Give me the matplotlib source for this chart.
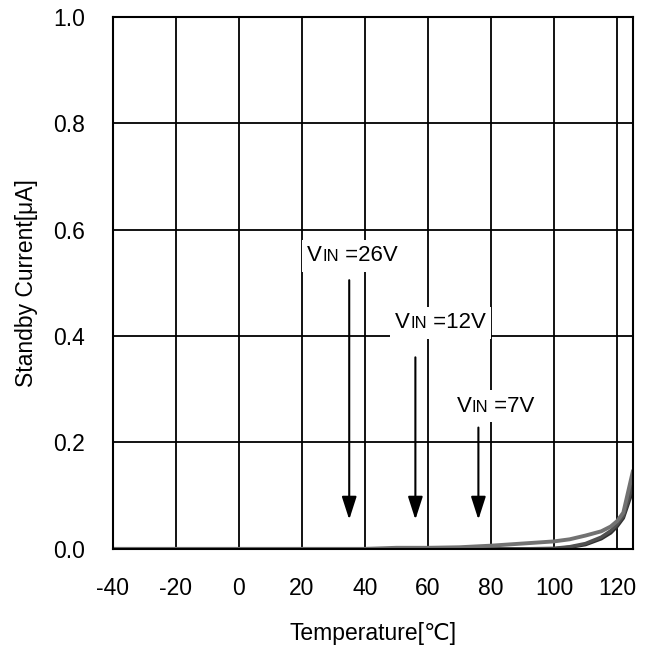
import numpy as np
import matplotlib
matplotlib.use("Agg")
from matplotlib import pyplot as plt
from matplotlib.offsetbox import TextArea, HPacker, AnnotationBbox

plt.rcParams['font.family'] = ['Liberation Sans', 'DejaVu Sans']
plt.rcParams['axes.unicode_minus'] = False

# Temperature [degC]
temp = [-40, -20, 0, 20, 40, 50, 60, 70, 80, 90, 100, 105, 110, 115, 118, 120, 122, 125]
# Standby current [uA] per supply voltage
i_26v = [0.0, 0.0, 0.0, 0.0, 0.0, 0.002, 0.002, 0.003, 0.006, 0.010, 0.014, 0.018, 0.025, 0.033, 0.042, 0.052, 0.068, 0.145]
i_12v = [0.0, 0.0, 0.0, 0.0, 0.0, 0.0, 0.0, 0.0, 0.0, 0.0, 0.001, 0.004, 0.010, 0.022, 0.034, 0.046, 0.062, 0.120]
i_7v = [0.0, 0.0, 0.0, 0.0, 0.0, 0.0, 0.0, 0.0, 0.0, 0.0, 0.0, 0.003, 0.008, 0.019, 0.030, 0.042, 0.058, 0.110]

labels = ['26V', '12V', '7V']
arrow_x = [35, 56, 76]
arrow_top = [0.505, 0.36, 0.228]
arrow_tip = 0.055
label_pos = [(36, 0.551), (64, 0.425), (81.5, 0.268)]

xticks = [-40, -20, 0, 20, 40, 60, 80, 100, 120]
yticks = [0.0, 0.2, 0.4, 0.6, 0.8, 1.0]

fig = plt.figure(figsize=(6.49, 6.48), dpi=100)
ax = fig.add_axes([0.174, 0.153, 0.801, 0.821])

ax.plot(temp, i_7v, color='#303030', lw=2.5)
ax.plot(temp, i_12v, color='#505050', lw=2.5)
ax.plot(temp, i_26v, color='#727272', lw=2.8)

ax.set_xlim(-40, 125)
ax.set_ylim(0, 1.0)
ax.set_xticks(xticks)
ax.set_yticks(yticks)
ax.set_yticklabels(['%.1f' % v for v in yticks])
ax.grid(True, color='black', lw=1.3)
ax.set_axisbelow(True)
ax.tick_params(length=0, labelsize=16.5)
ax.tick_params(axis='y', pad=20)
ax.tick_params(axis='x', pad=20)
for s in ax.spines.values():
    s.set_linewidth(1.5)

ax.set_xlabel('Temperature[\u2103]', fontsize=16.5, labelpad=16)
ax.set_ylabel('Standby Current[\u03bcA]', fontsize=16.5, labelpad=11)

for lab, x, top, pos in zip(labels, arrow_x, arrow_top, label_pos):
    ax.annotate('', xy=(x, arrow_tip), xytext=(x, top),
                arrowprops=dict(arrowstyle='-|>,head_width=0.45,head_length=1.4',
                                color='black', lw=1.5, shrinkA=0, shrinkB=0))
    parts = [TextArea('V', textprops=dict(fontsize=16)),
             TextArea('IN', textprops=dict(fontsize=12)),
             TextArea(' =' + lab, textprops=dict(fontsize=16))]
    box = HPacker(children=parts, align='baseline', pad=0, sep=0)
    ab = AnnotationBbox(box, pos, xycoords='data', frameon=True, pad=0.4,
                        bboxprops=dict(facecolor='white', edgecolor='none'))
    ax.add_artist(ab)

fig.savefig('out.png', dpi=100)
